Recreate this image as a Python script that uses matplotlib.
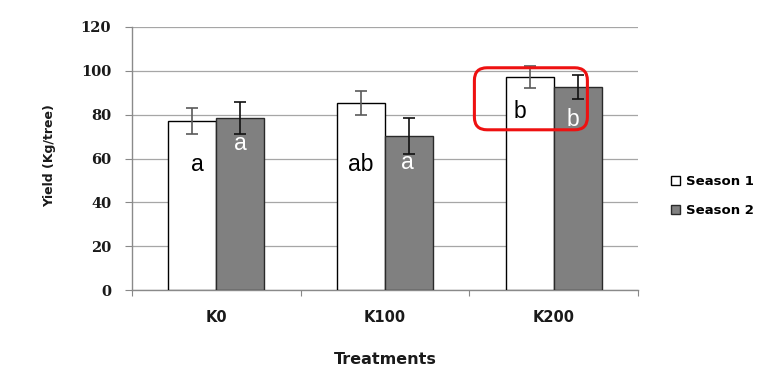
import matplotlib.pyplot as plt
import numpy as np
from matplotlib.patches import FancyBboxPatch

treatments = ["K0", "K100", "K200"]
season1 = [77.2, 85.2, 97.1]
season2 = [78.4, 70.3, 92.8]
season1_err = [6.0, 5.5, 5.0]
season2_err = [7.2, 8.2, 5.5]
season1_letters = ["a", "ab", "b"]
season2_letters = ["a", "a", "b"]

# where the significance letters sit inside the bars
season1_letter_y = [54.3, 54.3, 78.4]
season2_letter_y = [63.9, 55.3, 74.9]
season1_letter_dx = [0.03, 0.0, -0.06]
season2_letter_dx = [0.0, -0.01, -0.03]

fig = plt.figure(figsize=(7.81, 3.79), dpi=100)
ax = fig.add_axes([132 / 781, 1 - 290 / 379, 506 / 781, 263 / 379])

x = np.arange(len(treatments))
w = 0.285

ax.bar(x - w / 2, season1, w, color="white", edgecolor="black", linewidth=1.0,
       label="Season 1", zorder=3)
ax.bar(x + w / 2, season2, w, color="#808080", edgecolor="#2a2a2a", linewidth=1.0,
       label="Season 2", zorder=3)
ax.errorbar(x - w / 2, season1, yerr=season1_err, fmt="none", ecolor="#5a5a5a",
            elinewidth=1.2, capsize=4.5, capthick=1.2, zorder=4)
ax.errorbar(x + w / 2, season2, yerr=season2_err, fmt="none", ecolor="#111111",
            elinewidth=1.2, capsize=4.5, capthick=1.2, zorder=4)

for i in range(len(treatments)):
    ax.text(x[i] - w / 2 + season1_letter_dx[i], season1_letter_y[i], season1_letters[i],
            ha="center", va="baseline", fontsize=16.5, color="black",
            family="Liberation Sans", zorder=5)
    ax.text(x[i] + w / 2 + season2_letter_dx[i], season2_letter_y[i], season2_letters[i],
            ha="center", va="baseline", fontsize=16.5, color="white",
            family="Liberation Sans", zorder=5)

# red rounded box around the K200 pair
px_x = 506 / 3.0
px_y = 263 / 120.0
box = FancyBboxPatch((1.53, 73.1), 0.67, 28.3,
                     boxstyle="round,pad=0,rounding_size=0.075",
                     mutation_aspect=px_x / px_y,
                     facecolor="none", edgecolor="#ee1111", linewidth=2.2,
                     zorder=6, clip_on=False)
ax.add_patch(box)

ax.set_xlim(-0.5, 2.5)
ax.set_ylim(0, 120)
ax.set_yticks(np.arange(0, 121, 20))
ax.yaxis.grid(True, color="#a6a6a6", linewidth=0.9, zorder=0)
ax.set_axisbelow(True)

ax.set_xticks([-0.5, 0.5, 1.5, 2.5])
ax.set_xticklabels([])
ax.set_xticks(x, minor=True)
ax.set_xticklabels(treatments, minor=True, fontsize=10.5, fontweight="bold",
                   color="#1a1a1a")
ax.tick_params(axis="x", which="major", length=4, color="#888888", direction="out")
ax.tick_params(axis="x", which="minor", length=0, pad=14.5)
ax.tick_params(axis="y", length=5, color="#888888", pad=10)
for lbl in ax.get_yticklabels():
    lbl.set_family("DejaVu Serif")
    lbl.set_fontweight("bold")
    lbl.set_fontsize(10.5)
    lbl.set_color("#1a1a1a")

for side in ["top", "right"]:
    ax.spines[side].set_visible(False)
for side in ["left", "bottom"]:
    ax.spines[side].set_color("#8a8a8a")
    ax.spines[side].set_linewidth(1.0)

ax.set_ylabel("Yield (Kg/tree)", fontsize=9, fontweight="bold", color="#1a1a1a")
ax.yaxis.set_label_coords(-0.150, 0.51)
ax.set_xlabel("Treatments", fontsize=11.5, fontweight="bold", color="#1a1a1a",
              va="top")
ax.xaxis.set_label_coords(0.5, -0.236)

fig.legend(loc="center left", bbox_to_anchor=(671 / 781, 1 - 196 / 379),
           frameon=False, handlelength=0.7, handleheight=0.7,
           handletextpad=0.4, labelspacing=1.2, borderpad=0, borderaxespad=0,
           prop={"weight": "bold", "size": 9.5})

fig.savefig("out.png", dpi=100)
